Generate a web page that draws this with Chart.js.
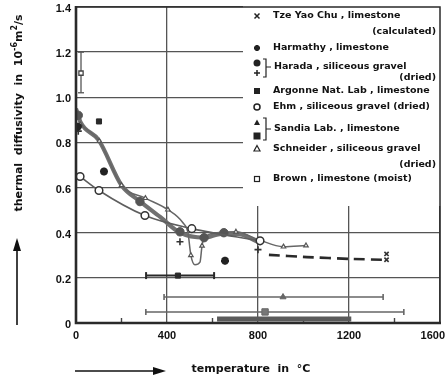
<!DOCTYPE html>
<html>
<head>
<meta charset="utf-8">
<script src="https://cdn.jsdelivr.net/npm/chart.js@4.4.0/dist/chart.umd.min.js"></script>
<style>
html, body { margin: 0; padding: 0; background: #fff; }
</style>
</head>
<body>
<canvas id="chart" width="447" height="382"></canvas>
<script>
// values: temperature in °C, diffusivity in 10^-6 m²/s
const xTicks = [0, 400, 800, 1200, 1600];
const xMinorTicks = [200, 600, 1000, 1400];
const yTicks = [0, 0.2, 0.4, 0.6, 0.8, 1.0, 1.2, 1.4];

// Harada, siliceous gravel (dried) - thick curve, dots and crosses
const haradaLineT = [0, 20, 100, 200, 280, 370, 457, 563, 640, 710, 800];
const haradaLineA = [0.95, 0.89, 0.81, 0.61, 0.54, 0.47, 0.40, 0.378, 0.395, 0.395, 0.36];
const haradaDotT = [10, 281, 457, 563, 650];
const haradaDotA = [0.92, 0.538, 0.404, 0.378, 0.40];
const haradaPlusT = [10, 457, 800];
const haradaPlusA = [0.85, 0.36, 0.325];

// Ehm, siliceous gravel (dried)
const ehmT = [18, 101, 303, 509, 809];
const ehmA = [0.649, 0.587, 0.476, 0.418, 0.364];

// Schneider, siliceous gravel (dried)
const schneiderT = [18, 102, 200, 305, 404, 470, 492, 505, 523, 545, 554, 565, 620, 703, 800, 912, 1011];
const schneiderA = [0.88, 0.806, 0.61, 0.553, 0.502, 0.444, 0.40, 0.30, 0.258, 0.27, 0.342, 0.38, 0.40, 0.404, 0.37, 0.338, 0.343];
const schneiderMarked = [0, 1, 2, 3, 4, 7, 10, 13, 15, 16];

// Tze Yao Chu, limestone (calculated)
const tzeT = [848, 1015, 1204, 1367];
const tzeA = [0.302, 0.292, 0.284, 0.28];
const tzeMarkT = [1365, 1365];
const tzeMarkA = [0.306, 0.28];

// Harmathy, limestone
const harmathyT = [8, 123, 655];
const harmathyA = [0.87, 0.671, 0.276];

// Argonne Nat. Lab, limestone
const argonneT = [101, 448];
const argonneA = [0.893, 0.21];
const argonneRangeT = [308, 607];

// Brown, limestone (moist)
const brownT = [22];
const brownA = [1.107];
const brownRangeA = [1.02, 1.2];

// Sandia Lab, limestone
const sandiaTriT = [910];
const sandiaTriA = [0.115];
const sandiaTriRangeT = [387, 1350];
const sandiaSqT = [831];
const sandiaSqA = [0.049];
const sandiaSqRangeT = [307, 1441];
const sandiaBandT = [620, 1210];
const sandiaBandA = 0.018;

function pts(t, a) {
  return t.map((v, i) => ({ x: v, y: Array.isArray(a) ? a[i] : a }));
}

const ink = '#333';
const grey = '#5e5e5e';

const datasets = [
  { data: pts(tzeMarkT, tzeMarkA), pointStyle: 'crossRot', pointRadius: 3, borderColor: ink, pointBorderWidth: 1.6 },
  { data: pts(harmathyT, harmathyA), pointStyle: 'star', pointRadius: 4, borderColor: '#222', pointBorderWidth: 2.6 },
  { data: pts(haradaPlusT, haradaPlusA), pointStyle: 'cross', pointRadius: 3.5, borderColor: ink, pointBorderWidth: 1.6 },
  { data: pts(argonneT, argonneA), pointStyle: 'rect', pointRadius: 3.6, backgroundColor: '#2a2a2a', borderColor: '#2a2a2a' },
  { data: pts(brownT, brownA), pointStyle: 'rect', pointRadius: 3, backgroundColor: '#fff', borderColor: '#444', pointBorderWidth: 1.3 },
  { data: pts(ehmT, ehmA), showLine: true, borderColor: grey, borderWidth: 1.6, cubicInterpolationMode: 'monotone',
    pointStyle: 'circle', pointRadius: 3.8, pointBackgroundColor: '#fff', pointBorderColor: '#333', pointBorderWidth: 1.5 },
  { data: pts(sandiaTriT, sandiaTriA), pointStyle: 'triangle', pointRadius: 3.5, backgroundColor: '#666', borderColor: '#666' },
  { data: pts(sandiaSqT, sandiaSqA), pointStyle: 'rect', pointRadius: 4.5, backgroundColor: '#777', borderColor: '#666' },
  { data: pts(haradaDotT, haradaDotA), pointStyle: 'circle', pointRadius: 4.2, backgroundColor: '#555', borderColor: '#555' },
  { data: pts(schneiderT, schneiderA), showLine: true, borderColor: '#666', borderWidth: 1.5, cubicInterpolationMode: 'monotone',
    pointStyle: 'triangle', pointRadius: schneiderT.map((_, i) => schneiderMarked.includes(i) ? 2.6 : 0),
    pointBackgroundColor: '#fff', pointBorderColor: '#555', pointBorderWidth: 1.2 },
  { data: pts(tzeT, tzeA), showLine: true, borderColor: '#2a2a2a', borderWidth: 2.6, borderDash: [11, 6], pointRadius: 0, tension: 0.2 },
  { data: pts(haradaLineT, haradaLineA), showLine: true, borderColor: '#707070', borderWidth: 4.2, cubicInterpolationMode: 'monotone', pointRadius: 0 },
  // ranges (error bars)
  { data: pts(argonneRangeT, argonneA[1]), showLine: true, borderColor: '#2a2a2a', borderWidth: 2, pointStyle: 'line', rotation: 90, pointRadius: 3.5, pointBorderWidth: 2 },
  { data: pts([brownT[0], brownT[0]], brownRangeA), showLine: true, borderColor: '#555', borderWidth: 1.3, pointStyle: 'line', pointRadius: 3, pointBorderWidth: 1.3 },
  { data: pts(sandiaTriRangeT, sandiaTriA[0]), showLine: true, borderColor: '#666', borderWidth: 1.6, pointStyle: 'line', rotation: 90, pointRadius: 3, pointBorderWidth: 1.6 },
  { data: pts(sandiaSqRangeT, sandiaSqA[0]), showLine: true, borderColor: '#666', borderWidth: 1.6, pointStyle: 'line', rotation: 90, pointRadius: 3, pointBorderWidth: 1.6 },
  { data: pts(sandiaBandT, sandiaBandA), showLine: true, borderColor: '#5a5a5a', borderWidth: 5, pointRadius: 0, borderCapStyle: 'butt' }
];

// legend layout (positions in px)
const legendMarks = [
  ['crossRot', 16], ['star', 48], ['dot', 63], ['cross', 73], ['rect', 91],
  ['circle', 107], ['triFill', 123], ['rectBig', 136], ['tri', 149], ['rectOpen', 179]
];
const legendTexts = [
  ['Tze Yao Chu , limestone', 273, 16], ['Harmathy , limestone', 273, 48],
  ['Harada , siliceous gravel', 274, 67], ['Argonne Nat. Lab , limestone', 273, 91],
  ['Ehm , siliceous gravel (dried)', 273, 107], ['Sandia Lab. , limestone', 274, 129],
  ['Schneider , siliceous gravel', 273, 149], ['Brown , limestone (moist)', 273, 179]
];
const legendRight = [['(calculated)', 32], ['(dried)', 78], ['(dried)', 165]];
const brackets = [[59, 77, 67], [118, 140, 129]];

function mark(ctx, kind, x, y) {
  ctx.save();
  ctx.strokeStyle = '#222'; ctx.fillStyle = '#222'; ctx.lineWidth = 1.5;
  ctx.beginPath();
  if (kind === 'crossRot') {
    ctx.moveTo(x - 2.5, y - 2.5); ctx.lineTo(x + 2.5, y + 2.5);
    ctx.moveTo(x + 2.5, y - 2.5); ctx.lineTo(x - 2.5, y + 2.5); ctx.stroke();
  } else if (kind === 'cross') {
    ctx.moveTo(x - 3, y); ctx.lineTo(x + 3, y); ctx.moveTo(x, y - 3); ctx.lineTo(x, y + 3); ctx.stroke();
  } else if (kind === 'star') {
    ctx.lineWidth = 2;
    for (let k = 0; k < 4; k++) {
      const a = k * Math.PI / 4;
      ctx.moveTo(x - 3 * Math.cos(a), y - 3 * Math.sin(a)); ctx.lineTo(x + 3 * Math.cos(a), y + 3 * Math.sin(a));
    }
    ctx.stroke();
  } else if (kind === 'dot') {
    ctx.arc(x, y, 3.5, 0, Math.PI * 2); ctx.fill();
  } else if (kind === 'circle') {
    ctx.arc(x, y, 3, 0, Math.PI * 2); ctx.stroke();
  } else if (kind === 'rect') {
    ctx.fillRect(x - 3, y - 3, 6, 6);
  } else if (kind === 'rectBig') {
    ctx.fillRect(x - 3.5, y - 3.5, 7, 7);
  } else if (kind === 'rectOpen') {
    ctx.lineWidth = 1.2; ctx.strokeRect(x - 2.5, y - 2.5, 5, 5);
  } else if (kind === 'triFill' || kind === 'tri') {
    ctx.moveTo(x, y - 3.5); ctx.lineTo(x + 3, y + 2); ctx.lineTo(x - 3, y + 2); ctx.closePath();
    if (kind === 'triFill') ctx.fill(); else { ctx.lineWidth = 1.2; ctx.stroke(); }
  }
  ctx.restore();
}

function arrow(ctx, x1, y1, x2, y2) {
  const ang = Math.atan2(y2 - y1, x2 - x1);
  ctx.save();
  ctx.strokeStyle = '#111'; ctx.fillStyle = '#111'; ctx.lineWidth = 1.6;
  ctx.beginPath(); ctx.moveTo(x1, y1);
  ctx.lineTo(x2 - 10 * Math.cos(ang), y2 - 10 * Math.sin(ang)); ctx.stroke();
  ctx.translate(x2, y2); ctx.rotate(ang);
  ctx.beginPath(); ctx.moveTo(0, 0); ctx.lineTo(-13, -4); ctx.lineTo(-13, 4); ctx.closePath(); ctx.fill();
  ctx.restore();
}

const decor = {
  id: 'decor',
  beforeDatasetsDraw(chart) {
    const { ctx, scales: { x } , chartArea: a } = chart;
    // white legend panel over the grid
    ctx.save();
    ctx.fillStyle = '#fff';
    ctx.fillRect(243, a.top - 2, a.right - 243 + 2, 208 - a.top);
    ctx.restore();
    // inward minor ticks on the temperature axis
    ctx.save();
    ctx.strokeStyle = '#444'; ctx.lineWidth = 1.4;
    xMinorTicks.forEach(v => {
      const px = x.getPixelForValue(v);
      ctx.beginPath(); ctx.moveTo(px, a.bottom); ctx.lineTo(px, a.bottom - 5); ctx.stroke();
    });
    ctx.restore();
  },
  afterDraw(chart) {
    const { ctx, scales: { x, y }, chartArea: a } = chart;
    ctx.save();
    // frame
    ctx.strokeStyle = '#2a2a2a';
    ctx.lineWidth = 1.5;
    ctx.strokeRect(a.left, a.top, a.right - a.left, a.bottom - a.top);
    ctx.lineWidth = 2.6;
    ctx.beginPath(); ctx.moveTo(a.left, a.top - 1); ctx.lineTo(a.left, a.bottom); ctx.lineTo(a.right + 1, a.bottom); ctx.stroke();

    // tick labels
    ctx.fillStyle = '#111';
    ctx.font = 'bold 11px "Liberation Sans", Arial, sans-serif';
    ctx.textAlign = 'right'; ctx.textBaseline = 'middle';
    yTicks.forEach(v => {
      const lbl = v === 0 ? '0' : v.toFixed(1);
      ctx.fillText(lbl, a.left - 5, y.getPixelForValue(v) + 2);
    });
    ctx.textAlign = 'center';
    xTicks.forEach(v => {
      let px = x.getPixelForValue(v);
      const w = ctx.measureText(String(v)).width;
      if (px + w / 2 > chart.width - 2) px = chart.width - 2 - w / 2;
      ctx.fillText(String(v), px, a.bottom + 13);
    });

    // axis titles
    ctx.font = 'bold 11px "DejaVu Sans", sans-serif';
    ctx.textAlign = 'center';
    ctx.fillText('temperature  in  °C', 251, 369);
    arrow(ctx, 75, 371, 166, 371);

    const parts = [['thermal  diffusivity  in  10', 0], ['-6', 1], ['m', 0], ['2', 1], ['/s', 0]];
    const big = 'bold 11px "DejaVu Sans", sans-serif', small = 'bold 8px "DejaVu Sans", sans-serif';
    let total = 0;
    parts.forEach(p => { ctx.font = p[1] ? small : big; total += ctx.measureText(p[0]).width; });
    ctx.save();
    ctx.translate(19, 113); ctx.rotate(-Math.PI / 2);
    ctx.textAlign = 'left';
    let cx = -total / 2;
    parts.forEach(p => {
      ctx.font = p[1] ? small : big;
      ctx.fillText(p[0], cx, p[1] ? -4 : 0);
      cx += ctx.measureText(p[0]).width;
    });
    ctx.restore();
    arrow(ctx, 17, 325, 17, 238);

    // legend
    legendMarks.forEach(m => mark(ctx, m[0], 257, m[1]));
    ctx.fillStyle = '#111';
    ctx.font = 'bold 9.5px "DejaVu Sans", sans-serif';
    ctx.textAlign = 'left';
    legendTexts.forEach(t => ctx.fillText(t[0], t[1], t[2]));
    ctx.textAlign = 'right';
    legendRight.forEach(t => ctx.fillText(t[0], 436, t[1]));
    ctx.strokeStyle = '#222'; ctx.lineWidth = 1.2;
    brackets.forEach(b => {
      ctx.beginPath();
      ctx.moveTo(263, b[0]); ctx.lineTo(266, b[0]); ctx.lineTo(266, b[1]); ctx.lineTo(263, b[1]);
      ctx.moveTo(266, b[2]); ctx.lineTo(271, b[2]);
      ctx.stroke();
    });
    ctx.restore();
  }
};

new Chart(document.getElementById('chart'), {
  type: 'scatter',
  data: { datasets: datasets },
  options: {
    responsive: false,
    animation: false,
    layout: { padding: { left: 76, right: 7, top: 7, bottom: 59 } },
    plugins: { legend: { display: false }, tooltip: { enabled: false } },
    scales: {
      x: {
        type: 'linear', min: 0, max: 1600,
        ticks: { display: false, stepSize: 400 },
        grid: { color: '#555', lineWidth: 1.3, drawTicks: false },
        border: { display: false }
      },
      y: {
        min: 0, max: 1.4,
        ticks: { display: false, stepSize: 0.2 },
        grid: { color: '#555', lineWidth: 1.3, drawTicks: false },
        border: { display: false }
      }
    }
  },
  plugins: [decor]
});
</script>
</body>
</html>
